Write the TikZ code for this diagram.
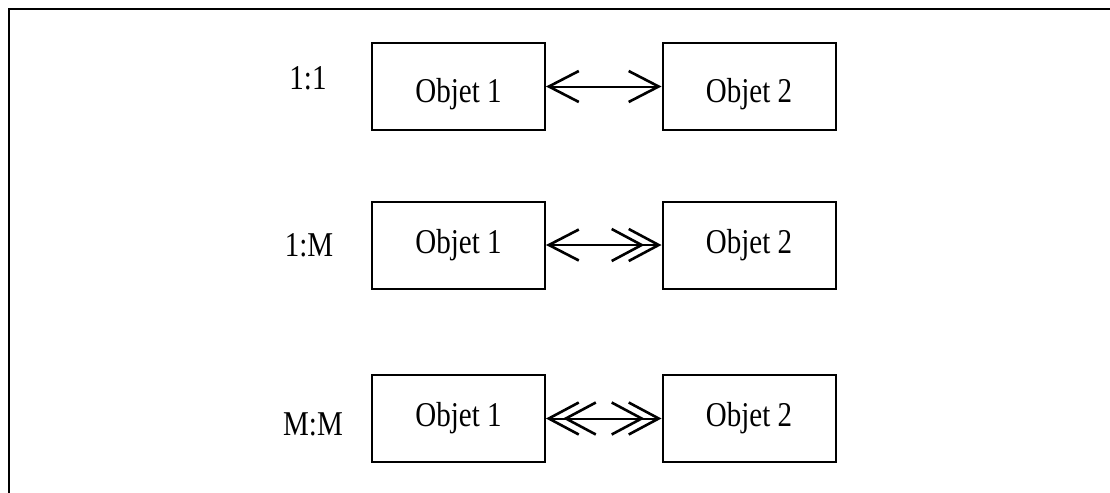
\documentclass[tikz,border=0pt]{standalone}
\usepackage{fontspec}
\setmainfont{Liberation Serif}
\usepackage{graphicx}
\usetikzlibrary{arrows.meta}
\newcommand{\tall}[1]{\scalebox{1}[1.2]{#1}}

\tikzset{
  onetip/.tip={Straight Barb[length=15pt, width=15.5pt, line width=1.3pt]},
  manytip/.tip={Straight Barb[length=15pt, width=16pt, line width=1.3pt, sep=-8.5pt]
                Straight Barb[length=15pt, width=16pt, line width=1.3pt]}
}

\begin{document}
\begin{tikzpicture}[x=0.5pt, y=-0.5pt,
    obj/.style={draw, line width=1pt, minimum width=86.5pt, minimum height=43.5pt,
                inner sep=0pt, font=\fontsize{14.5}{17}\selectfont},
    card/.style={font=\fontsize{14.5}{17}\selectfont},
    low/.style={text height=20pt},
    link/.style={line width=1pt}
  ]
    \useasboundingbox (0,0) rectangle (1110,493);

    % Frame
    \draw[line width=1.2pt] (1110,9) -- (9,9) -- (9,493);

    % 1:1
    \node[card] (c1) at (308,78) {\tall{1:1}};
    \node[obj, low] (a1) at (458.5,86.5) {\tall{Objet 1}};
    \node[obj, low] (b1) at (749,86.5) {\tall{Objet 2}};

    % 1:M
    \node[card] (c2) at (309,245) {\tall{1:M}};
    \node[obj] (a2) at (458.5,245) {\tall{Objet 1}};
    \node[obj] (b2) at (749,245) {\tall{Objet 2}};

    % M:M
    \node[card] (c3) at (313,424) {\tall{M:M}};
    \node[obj] (a3) at (458.5,418.5) {\tall{Objet 1}};
    \node[obj] (b3) at (749,418.5) {\tall{Objet 2}};

    % Arrows
    \draw[link, onetip-onetip] (a1) -- (b1);
    \draw[link, onetip-manytip] (a2) -- (b2);
    \draw[link, manytip-manytip] (a3) -- (b3);
  \end{tikzpicture}
\end{document}
